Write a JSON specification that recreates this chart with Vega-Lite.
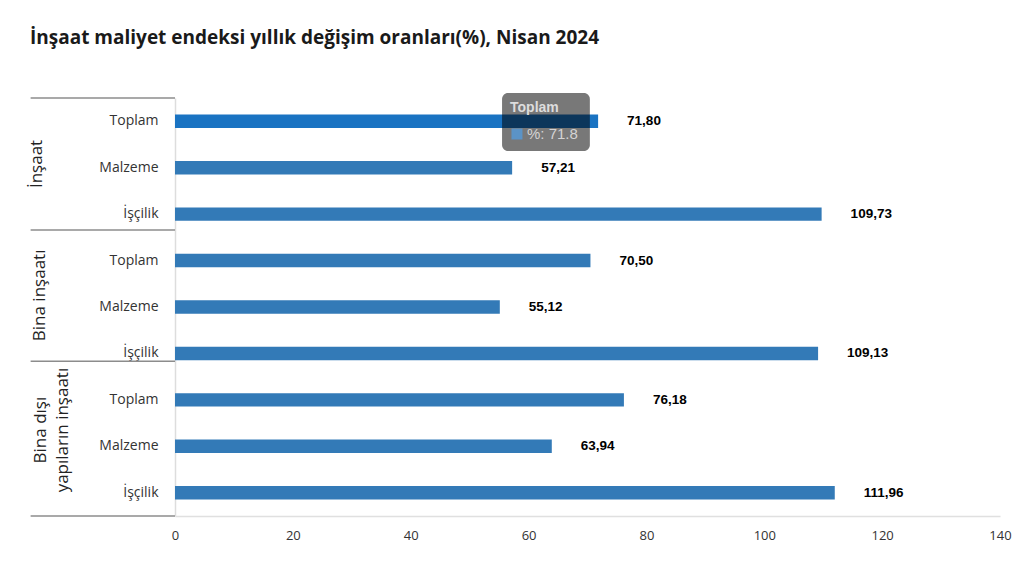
{
  "$schema": "https://vega.github.io/schema/vega-lite/v6.json",
  "width": 825,
  "height": 418,
  "autosize": {"type": "none"},
  "padding": {"left": 175, "top": 98, "right": 32, "bottom": 51},
  "background": "white",
  "title": {
    "text": "İnşaat maliyet endeksi yıllık değişim oranları(%), Nisan 2024",
    "anchor": "start",
    "frame": "group",
    "dx": -145,
    "offset": 45,
    "font": "Open Sans",
    "fontSize": 19,
    "fontWeight": "bold",
    "color": "#1a1a1a"
  },
  "config": {
    "view": {"stroke": null},
    "locale": {
      "number": {"decimal": ",", "thousands": ".", "grouping": [3], "currency": ["", " TL"]}
    }
  },
  "datasets": {
    "veri": [
      {"kategori": "İnşaat|Toplam", "grup": "İnşaat", "kalem": "Toplam", "deger": 71.80},
      {"kategori": "İnşaat|Malzeme", "grup": "İnşaat", "kalem": "Malzeme", "deger": 57.21},
      {"kategori": "İnşaat|İşçilik", "grup": "İnşaat", "kalem": "İşçilik", "deger": 109.73},
      {"kategori": "Bina inşaatı|Toplam", "grup": "Bina inşaatı", "kalem": "Toplam", "deger": 70.50},
      {"kategori": "Bina inşaatı|Malzeme", "grup": "Bina inşaatı", "kalem": "Malzeme", "deger": 55.12},
      {"kategori": "Bina inşaatı|İşçilik", "grup": "Bina inşaatı", "kalem": "İşçilik", "deger": 109.13},
      {"kategori": "Bina dışı yapıların inşaatı|Toplam", "grup": "Bina dışı yapıların inşaatı", "kalem": "Toplam", "deger": 76.18},
      {"kategori": "Bina dışı yapıların inşaatı|Malzeme", "grup": "Bina dışı yapıların inşaatı", "kalem": "Malzeme", "deger": 63.94},
      {"kategori": "Bina dışı yapıların inşaatı|İşçilik", "grup": "Bina dışı yapıların inşaatı", "kalem": "İşçilik", "deger": 111.96}
    ]
  },
  "layer": [
    {
      "data": {"name": "veri"},
      "layer": [
        {
          "mark": {"type": "bar"},
          "encoding": {
            "y": {
              "field": "kategori",
              "type": "nominal",
              "sort": null,
              "scale": {"paddingInner": 0.71, "paddingOuter": 0.355},
              "axis": {
                "title": null,
                "labelExpr": "split(datum.label, '|')[1]",
                "labelFont": "Open Sans",
                "labelFontSize": 14,
                "labelColor": "#333333",
                "labelPadding": 17,
                "ticks": false,
                "domainColor": "#dddddd",
                "domainWidth": 1.5,
                "grid": false
              }
            },
            "x": {
              "field": "deger",
              "type": "quantitative",
              "scale": {"domain": [0, 140]},
              "axis": {
                "title": null,
                "values": [0, 20, 40, 60, 80, 100, 120, 140],
                "labelFont": "Open Sans",
                "labelFontSize": 13,
                "labelColor": "#333333",
                "labelPadding": 13,
                "labelFlush": false,
                "ticks": false,
                "grid": false,
                "domainColor": "#e0e0e0",
                "domainWidth": 1.5
              }
            },
            "color": {
              "condition": {"test": "datum.kategori === 'İnşaat|Toplam'", "value": "#1a73c2"},
              "value": "#337ab7"
            }
          }
        },
        {
          "mark": {"type": "text", "align": "left", "baseline": "middle", "dx": 29, "font": "Liberation Sans", "fontWeight": "bold", "fontSize": 13.5, "color": "#000000"},
          "encoding": {
            "y": {"field": "kategori", "type": "nominal", "sort": null},
            "x": {"field": "deger", "type": "quantitative", "scale": {"domain": [0, 140]}},
            "text": {"field": "deger", "type": "quantitative", "format": ".2f"}
          }
        }
      ]
    },
    {
      "data": {"values": [{}]},
      "layer": [
        {
          "mark": {"type": "rule", "color": "#8c8c8c", "strokeWidth": 1.5},
          "encoding": {
            "x": {"datum": -24.5, "type": "quantitative", "scale": {"domain": [0, 140]}},
            "x2": {"datum": 0},
            "y": {"datum": 0.5, "type": "quantitative", "scale": {"domain": [0.5, 9.5], "reverse": true}, "axis": null}
          }
        },
        {
          "mark": {"type": "rule", "color": "#8c8c8c", "strokeWidth": 1.5},
          "encoding": {
            "x": {"datum": -24.5, "type": "quantitative", "scale": {"domain": [0, 140]}},
            "x2": {"datum": 0},
            "y": {"datum": 3.34, "type": "quantitative", "scale": {"domain": [0.5, 9.5], "reverse": true}, "axis": null}
          }
        },
        {
          "mark": {"type": "rule", "color": "#8c8c8c", "strokeWidth": 1.5},
          "encoding": {
            "x": {"datum": -24.5, "type": "quantitative", "scale": {"domain": [0, 140]}},
            "x2": {"datum": 0},
            "y": {"datum": 6.17, "type": "quantitative", "scale": {"domain": [0.5, 9.5], "reverse": true}, "axis": null}
          }
        },
        {
          "mark": {"type": "rule", "color": "#8c8c8c", "strokeWidth": 1.5},
          "encoding": {
            "x": {"datum": -24.5, "type": "quantitative", "scale": {"domain": [0, 140]}},
            "x2": {"datum": 0},
            "y": {"datum": 9.5, "type": "quantitative", "scale": {"domain": [0.5, 9.5], "reverse": true}, "axis": null}
          }
        },
        {
          "mark": {"type": "text", "text": "İnşaat", "angle": 270, "align": "center", "baseline": "middle", "font": "Open Sans", "fontSize": 17, "color": "#222222"},
          "encoding": {
            "x": {"datum": -23.4, "type": "quantitative", "scale": {"domain": [0, 140]}},
            "y": {"datum": 1.92, "type": "quantitative", "scale": {"domain": [0.5, 9.5], "reverse": true}, "axis": null}
          }
        },
        {
          "mark": {"type": "text", "text": "Bina inşaatı", "angle": 270, "align": "center", "baseline": "middle", "font": "Open Sans", "fontSize": 17, "color": "#222222"},
          "encoding": {
            "x": {"datum": -22.9, "type": "quantitative", "scale": {"domain": [0, 140]}},
            "y": {"datum": 4.75, "type": "quantitative", "scale": {"domain": [0.5, 9.5], "reverse": true}, "axis": null}
          }
        },
        {
          "mark": {"type": "text", "text": ["Bina dışı", "yapıların inşaatı"], "lineHeight": 22, "angle": 270, "align": "center", "baseline": "middle", "font": "Open Sans", "fontSize": 17, "color": "#222222"},
          "encoding": {
            "x": {"datum": -22.8, "type": "quantitative", "scale": {"domain": [0, 140]}},
            "y": {"datum": 7.65, "type": "quantitative", "scale": {"domain": [0.5, 9.5], "reverse": true}, "axis": null}
          }
        },
        {
          "mark": {"type": "rect", "color": "#000000", "opacity": 0.53, "cornerRadius": 6},
          "encoding": {
            "x": {"datum": 55.5, "type": "quantitative", "scale": {"domain": [0, 140]}},
            "x2": {"datum": 70.4},
            "y": {"datum": 0.39, "type": "quantitative", "scale": {"domain": [0.5, 9.5], "reverse": true}, "axis": null},
            "y2": {"datum": 1.64}
          }
        },
        {
          "mark": {"type": "text", "text": "Toplam", "align": "left", "baseline": "middle", "font": "Liberation Sans", "fontWeight": "bold", "fontSize": 14, "color": "#dddddd"},
          "encoding": {
            "x": {"datum": 56.85, "type": "quantitative", "scale": {"domain": [0, 140]}},
            "y": {"datum": 0.715, "type": "quantitative", "scale": {"domain": [0.5, 9.5], "reverse": true}, "axis": null}
          }
        },
        {
          "mark": {"type": "text", "text": "%: 71.8", "align": "left", "baseline": "middle", "font": "Liberation Sans", "fontSize": 15, "color": "#d4d4d4"},
          "encoding": {
            "x": {"datum": 59.73, "type": "quantitative", "scale": {"domain": [0, 140]}},
            "y": {"datum": 1.275, "type": "quantitative", "scale": {"domain": [0.5, 9.5], "reverse": true}, "axis": null}
          }
        },
        {
          "mark": {"type": "point", "shape": "square", "filled": true, "size": 121, "color": "#5b93c6", "opacity": 1},
          "encoding": {
            "x": {"datum": 58.03, "type": "quantitative", "scale": {"domain": [0, 140]}},
            "y": {"datum": 1.275, "type": "quantitative", "scale": {"domain": [0.5, 9.5], "reverse": true}, "axis": null}
          }
        }
      ]
    }
  ],
  "resolve": {"scale": {"y": "independent"}}
}
